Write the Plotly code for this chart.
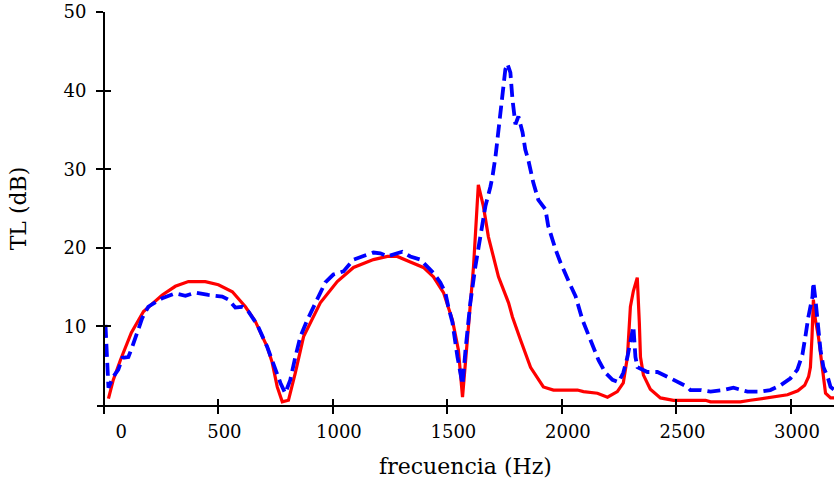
import plotly.graph_objects as go

# --- data ---
f_red = [20, 41, 72, 120, 173, 255, 312, 369, 443, 500, 561, 618, 662, 713, 735, 757, 779, 806,
         836, 872, 945, 1019, 1090, 1177, 1238, 1281, 1338, 1395, 1439, 1483, 1522, 1548, 1566,
         1587, 1614, 1635, 1657, 1679, 1723, 1767, 1784, 1819, 1863, 1919, 1963, 2068, 2094, 2155,
         2199, 2242, 2268, 2286, 2299, 2312, 2329, 2338, 2343, 2356, 2386, 2430, 2487, 2561, 2627,
         2649, 2779, 2823, 2910, 2985, 3030, 3060, 3077, 3085, 3092, 3098, 3107, 3120, 3138, 3151,
         3173, 3190]
tl_red = [0.8, 3.2, 5.7, 9.2, 11.9, 14.0, 15.1, 15.7, 15.7, 15.3, 14.4, 12.5, 10.6, 7.4, 5.4, 2.3, 0.4, 0.6,
          4.1, 8.7, 13.0, 15.7, 17.5, 18.5, 18.9, 18.9, 18.2, 17.5, 16.3, 14.3, 10.8, 7.0, 1.0,
          7.9, 17.6, 28.0, 25.3, 21.4, 16.3, 13.0, 11.2, 8.3, 4.8, 2.3, 1.9, 1.9, 1.7, 1.5,
          1.0, 1.7, 2.8, 6.1, 12.5, 14.5, 16.2, 10.5, 6.1, 3.8, 2.0, 0.9, 0.6, 0.6, 0.6,
          0.4, 0.4, 0.6, 1.0, 1.3, 1.8, 2.5, 3.6, 4.8, 8.7, 13.4, 10.8, 8.7, 4.5, 1.5,
          0.9, 0.9]

f_blue = [7, 14, 20, 41, 63, 81, 107, 124, 146, 168, 194, 255, 312, 356, 400, 456, 517, 544, 574,
          605, 631, 662, 670, 713, 740, 771, 792, 814, 836, 858, 888, 915, 945, 967, 1002, 1046,
          1090, 1133, 1177, 1207, 1238, 1281, 1303, 1338, 1382, 1412, 1439, 1469, 1491, 1504, 1522,
          1544, 1566, 1579, 1600, 1622, 1644, 1666, 1688, 1697, 1710, 1723, 1740, 1753, 1762, 1775,
          1784, 1797, 1810, 1828, 1840, 1853, 1875, 1897, 1928, 1940, 1972, 1994, 2030, 2060, 2090,
          2111, 2138, 2160, 2190, 2221, 2247, 2268, 2286, 2299, 2312, 2321, 2330, 2373, 2417, 2460,
          2504, 2548, 2561, 2605, 2649, 2705, 2749, 2810, 2867, 2910, 2954, 2998, 3028, 3050, 3063,
          3076, 3094, 3098, 3107, 3116, 3129, 3142, 3160, 3173, 3190]
tl_blue = [10.2, 6.6, 2.2, 3.6, 4.5, 6.0, 6.1, 7.4, 9.2, 11.1, 12.5, 13.6, 14.2, 13.9, 14.3, 14.0, 13.8, 13.4, 12.4,
           12.5, 11.9, 10.5, 10.2, 7.4, 5.1, 2.8, 1.5, 3.2, 6.1, 8.7, 10.8, 12.5, 14.3, 15.6, 16.6, 17.0,
           18.5, 18.9, 19.4, 19.3, 18.9, 19.3, 19.5, 18.9, 18.5, 17.6, 16.8, 15.6, 14.3, 12.5, 10.5,
           6.1, 2.6, 7.0, 13.0, 17.6, 21.4, 25.3, 27.8, 29.1, 31.6, 34.7, 38.9, 42.7, 43.4, 42.3,
           38.9, 35.7, 36.7, 34.7, 32.5, 31.2, 28.3, 26.1, 24.9, 22.8, 19.8, 18.1, 15.7, 13.8, 10.8,
           9.2, 7.4, 5.7, 4.1, 3.2, 2.9, 4.1, 6.1, 8.3, 10.0, 6.1, 4.8, 4.2, 4.2, 3.6,
           2.9, 2.3, 1.9, 1.9, 1.7, 1.9, 2.2, 1.7, 1.7, 1.9, 2.5, 3.4, 4.5, 6.4, 8.7,
           11.2, 13.8, 15.6, 13.4, 10.5, 7.0, 4.8, 3.6, 2.3, 1.9]

x_ticks = [0, 500, 1000, 1500, 2000, 2500, 3000]
x_ticktext = ["\u2007\u20070", "500", "1000", "1500", "2000", "2500", "3000"]
y_ticks = [10, 20, 30, 40, 50]

x_range = [-30, 3188]
y_range = [0, 50]

FONT = "DejaVu Serif"

fig = go.Figure()
fig.add_trace(go.Scatter(x=f_red, y=tl_red, mode="lines",
                         line=dict(color="#ff0000", width=3.2), showlegend=False))
fig.add_trace(go.Scatter(x=f_blue, y=tl_blue, mode="lines",
                         line=dict(color="#0000ff", width=3.8, dash="13px,6px"), showlegend=False))

ypos = (0 - x_range[0]) / (x_range[1] - x_range[0])

fig.update_layout(
    width=834, height=483,
    margin=dict(l=97, r=0, t=12, b=78),
    plot_bgcolor="white", paper_bgcolor="white",
    font=dict(family=FONT, size=18, color="black"),
    xaxis=dict(range=x_range, tickvals=x_ticks, ticktext=x_ticktext,
               showline=True, linecolor="black", linewidth=1.5,
               ticks="outside", ticklen=7, tickwidth=1.5, tickcolor="black",
               showgrid=False, zeroline=False, ticklabelshift=6, ticklabelstandoff=3,
               title=dict(text="frecuencia (Hz)", standoff=17),
               tickfont=dict(family=FONT, size=18)),
    yaxis=dict(range=y_range, tickvals=y_ticks, anchor="free", position=ypos,
               showline=True, linecolor="black", linewidth=1.5,
               ticks="outside", ticklen=7, tickwidth=1.5, tickcolor="black",
               showgrid=False, zeroline=False, ticklabelstandoff=6,
               title=dict(text="TL (dB)", standoff=30),
               tickfont=dict(family=FONT, size=18)),
    xaxis2=dict(range=x_range, overlaying="x", anchor="y", side="bottom",
                tickvals=x_ticks, showticklabels=False, ticks="inside", ticklen=6,
                tickwidth=1.5, tickcolor="black", showgrid=False, zeroline=False, showline=False),
    yaxis2=dict(range=y_range, overlaying="y", anchor="free", position=ypos, side="left",
                tickvals=y_ticks, showticklabels=False, ticks="inside", ticklen=6,
                tickwidth=1.5, tickcolor="black", showgrid=False, zeroline=False, showline=False),
)
fig.add_trace(go.Scatter(x=[None], y=[None], xaxis="x2", yaxis="y2", showlegend=False,
                         hoverinfo="skip"))

fig.write_html("out.html")
